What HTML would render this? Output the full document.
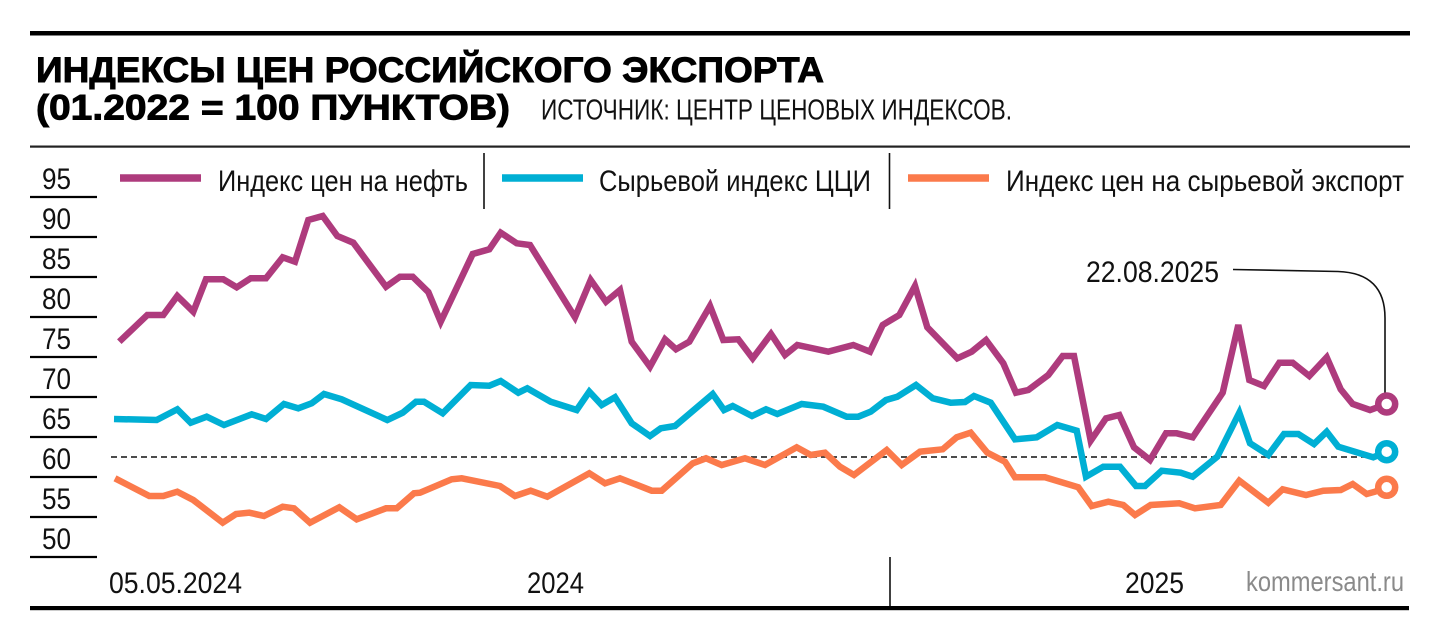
<!DOCTYPE html>
<html>
<head>
<meta charset="utf-8">
<style>
html,body{margin:0;padding:0;background:#fff;}
svg{display:block;}
.c{font-family:"Liberation Sans Narrow","Liberation Sans","Noto Sans CJK SC",sans-serif;fill:#111;}
.t{font-family:"Liberation Sans","Noto Sans CJK SC",sans-serif;font-weight:bold;fill:#000;stroke:#000;stroke-width:0.9;}
</style>
</head>
<body>
<svg width="1440" height="641" viewBox="0 0 1440 641" xmlns="http://www.w3.org/2000/svg">
<rect x="0" y="0" width="1440" height="641" fill="#fff"/>
<!-- top rules -->
<rect x="30" y="31" width="1380" height="4.5" fill="#000"/>
<rect x="30" y="145.5" width="1380" height="2.2" fill="#222"/>
<!-- title -->
<text class="t" x="36" y="82" font-size="35" textLength="788" lengthAdjust="spacingAndGlyphs">ИНДЕКСЫ ЦЕН РОССИЙСКОГО ЭКСПОРТА</text>
<text class="t" x="36" y="119.5" font-size="35" textLength="474" lengthAdjust="spacingAndGlyphs">(01.2022 = 100 ПУНКТОВ)</text>
<text class="c" x="541" y="119.5" font-size="29" textLength="471" lengthAdjust="spacingAndGlyphs">ИСТОЧНИК: ЦЕНТР ЦЕНОВЫХ ИНДЕКСОВ.</text>

<!-- legend -->
<line x1="120" y1="178" x2="201" y2="178" stroke="#ae3b7d" stroke-width="7.5"/>
<text class="c" x="218" y="191" font-size="30" textLength="250" lengthAdjust="spacingAndGlyphs">Индекс цен на нефть</text>
<line x1="484" y1="153" x2="484" y2="209" stroke="#111" stroke-width="1.6"/>
<line x1="502" y1="178" x2="583" y2="178" stroke="#00afd4" stroke-width="7.5"/>
<text class="c" x="599" y="191" font-size="30" textLength="272" lengthAdjust="spacingAndGlyphs">Сырьевой индекс ЦЦИ</text>
<line x1="889.5" y1="153" x2="889.5" y2="209" stroke="#111" stroke-width="1.6"/>
<line x1="908" y1="178" x2="989" y2="178" stroke="#fb7a4b" stroke-width="7.5"/>
<text class="c" x="1006" y="191" font-size="30" textLength="398" lengthAdjust="spacingAndGlyphs">Индекс цен на сырьевой экспорт</text>

<!-- y axis -->
<g stroke="#000" stroke-width="2.2">
<line x1="30" y1="197" x2="97" y2="197"/>
<line x1="30" y1="237" x2="97" y2="237"/>
<line x1="30" y1="277" x2="97" y2="277"/>
<line x1="30" y1="317" x2="97" y2="317"/>
<line x1="30" y1="357" x2="97" y2="357"/>
<line x1="30" y1="397" x2="97" y2="397"/>
<line x1="30" y1="437" x2="97" y2="437"/>
<line x1="30" y1="477" x2="97" y2="477"/>
<line x1="30" y1="517" x2="97" y2="517"/>
<line x1="30" y1="557" x2="97" y2="557"/>
</g>
<g class="c" font-size="30">
<text x="42" y="189" textLength="29" lengthAdjust="spacingAndGlyphs">95</text>
<text x="42" y="229" textLength="29" lengthAdjust="spacingAndGlyphs">90</text>
<text x="42" y="269" textLength="29" lengthAdjust="spacingAndGlyphs">85</text>
<text x="42" y="309" textLength="29" lengthAdjust="spacingAndGlyphs">80</text>
<text x="42" y="349" textLength="29" lengthAdjust="spacingAndGlyphs">75</text>
<text x="42" y="389" textLength="29" lengthAdjust="spacingAndGlyphs">70</text>
<text x="42" y="429" textLength="29" lengthAdjust="spacingAndGlyphs">65</text>
<text x="42" y="469" textLength="29" lengthAdjust="spacingAndGlyphs">60</text>
<text x="42" y="509" textLength="29" lengthAdjust="spacingAndGlyphs">55</text>
<text x="42" y="549" textLength="29" lengthAdjust="spacingAndGlyphs">50</text>
</g>

<!-- dashed reference -->
<line x1="111" y1="457" x2="1376" y2="457" stroke="#111" stroke-width="1.6" stroke-dasharray="6,4"/>

<!-- series -->
<g fill="none" stroke-width="6.5" stroke-linejoin="miter" stroke-miterlimit="4">
<polyline stroke="#ae3b7d" points="119.3,341.7 147.3,315 163.3,315 177.3,296 193.3,311.7 206,279.3 223.3,279.3 236.7,287.3 250.7,278.3 266,278.3 282.7,257.3 295,261.7 308.3,220 322.7,216 337.3,236 353.3,242.7 386,286.7 400,276.7 412.7,276.7 428.3,292 440.7,321.7 472.7,254 489.3,249.3 500.7,232.7 516.7,243.3 530,245 575,317.3 590.7,280 606,301.7 620,290 631.7,341.7 650,366.7 665,339.3 676,349.3 689.3,341.7 710,306 723.3,340 738.3,339.3 752.7,358.3 771,334 785,355 797.3,345 828.3,351.7 853.3,345 870,351.7 882.7,325 899.3,315 915,286 927.3,327.3 957.3,358.3 971.7,351.7 986,340 1003.3,363.3 1016,392.7 1028.3,390 1048.3,375 1062.7,356 1074,356 1090.7,440.7 1106,418.3 1119.3,415 1134,447.3 1150,460 1166,433.3 1176.7,433.3 1192.7,437.3 1222.7,392.7 1238.3,325 1249.3,380 1264,386 1279.3,362.7 1292.7,362.7 1309.3,376 1326.7,357.3 1340.7,389.3 1352.7,404 1370,410 1386.7,404"/>
<polyline stroke="#00afd4" points="114,419 156.7,420 177.3,409.3 190.7,422.7 206.7,416.7 224,425 251.7,414.3 266,419 284,404 298.3,408.3 311.7,403.3 324,394 341.7,399.3 387.3,420 402.7,412.7 416,401.7 424,401.7 442.7,413.3 470.7,385 489.3,385.7 500.7,381 518.3,392.7 527.3,388.3 550.7,401.7 576.7,410 589.3,391.7 601.7,405 615,397.3 631.7,423.3 650,436 660.7,428.3 675,426 712.7,394 724,410 732.7,406 752,416 766,409.3 777.3,414 801.7,404 823.3,406.7 846.7,416.7 858.3,416.7 870.7,411.7 886,400 897.3,396.7 916,385 932.7,398.3 950.7,402.7 965,402 974,396 990.7,402.7 1015,439.3 1036.7,437.3 1057.3,425 1076.7,430.7 1086,476.7 1103.3,466.7 1120,466.7 1136,486 1145,486 1161.7,470.7 1180.7,472.7 1192.7,476.7 1217.3,456.7 1239.3,412.7 1250,443.3 1268.3,455 1284,434 1298.3,434 1314,444 1326.7,431.7 1338.3,446.7 1373.3,457.3 1386.7,451.7"/>
<polyline stroke="#fb7a4b" points="115,478.3 149.3,496 163.3,496 177.3,491.7 193.3,500 222.7,522.7 236,514 249.3,512.7 264,516 282.7,506.7 294,508.3 310,522.7 339.3,507.3 356.7,519.3 386,508.3 396.7,508.3 414,493.3 420,492.7 451.7,479.3 461.7,478.3 500,486 515,496 530.7,490.7 547.3,496.7 589.3,473.3 605,483.3 620,478.3 651.7,490.7 661.7,490.7 692.7,463.3 706,458.3 721.7,465 745,458.3 765,465 796.7,447.3 810.7,455 825,452.7 840,466.7 854,475 886.7,450 901.7,465 920,451.7 942.7,449.3 956.7,437.3 970.7,432.7 987.3,452.7 1005,461.7 1015,477.3 1045,477.3 1078.3,487.3 1091.7,506 1108.3,501.7 1123.3,505 1135,515 1150.7,505 1179.3,503.3 1195,508.3 1220.7,505 1239.3,480.7 1268.3,502.7 1282.7,489.3 1306,495 1323.3,490.7 1340.7,490 1352.7,484 1366.7,494 1375,491.7 1386.7,487.3"/>
</g>

<!-- annotation leader -->
<path d="M1233,269.5 L1338,271.5 Q1385,273 1385,318 L1385,395" fill="none" stroke="#111" stroke-width="1.6"/>
<text class="c" x="1086" y="282" font-size="30" textLength="133" lengthAdjust="spacingAndGlyphs">22.08.2025</text>

<!-- end markers -->
<circle cx="1386.7" cy="404" r="8.5" fill="#fff" stroke="#ae3b7d" stroke-width="6.5"/>
<circle cx="1386.7" cy="451.7" r="8.5" fill="#fff" stroke="#00afd4" stroke-width="6.5"/>
<circle cx="1386.7" cy="487.3" r="8.5" fill="#fff" stroke="#fb7a4b" stroke-width="6.5"/>

<!-- x axis labels -->
<text class="c" x="109" y="593" font-size="30" textLength="133" lengthAdjust="spacingAndGlyphs">05.05.2024</text>
<text class="c" x="527" y="593" font-size="30" textLength="57" lengthAdjust="spacingAndGlyphs">2024</text>
<line x1="890" y1="557" x2="890" y2="607" stroke="#111" stroke-width="1.6"/>
<text class="c" x="1125" y="593" font-size="30" textLength="59" lengthAdjust="spacingAndGlyphs">2025</text>
<text class="c" x="1246" y="591" font-size="28" textLength="158" lengthAdjust="spacingAndGlyphs" style="fill:#8a8a8a">kommersant.ru</text>

<!-- bottom rule -->
<rect x="30" y="606" width="1379" height="4.2" fill="#000"/>
</svg>
</body>
</html>
